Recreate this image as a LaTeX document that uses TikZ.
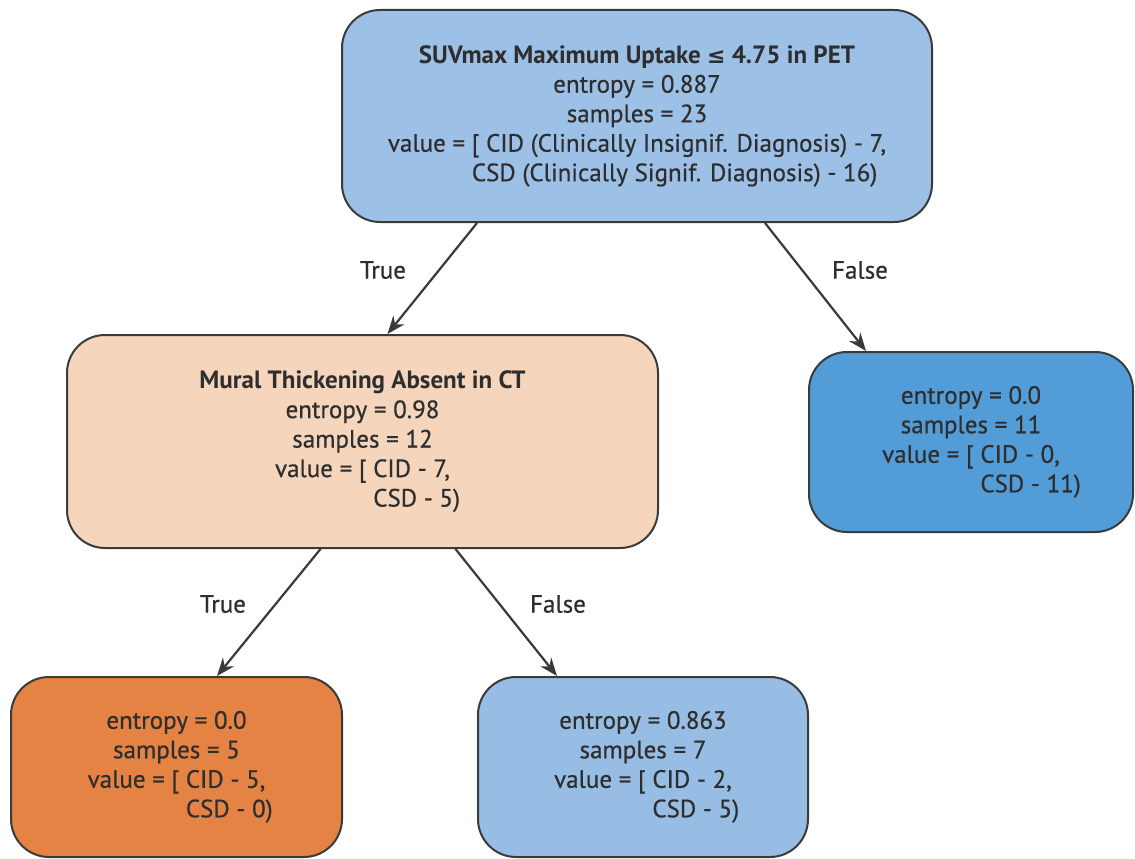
\documentclass[tikz,border=0pt]{standalone}
\usepackage{fontspec}
\setmainfont{PT Sans}[UprightFeatures={FakeBold=0.6}]
\newfontfamily\symfont{DejaVu Sans}
\usetikzlibrary{arrows.meta}
\definecolor{txt}{HTML}{2E2E2E}
\definecolor{edge}{HTML}{3A3A3A}
\definecolor{rootc}{HTML}{9CC0E6}
\definecolor{midc}{HTML}{F5D6BD}
\definecolor{rightc}{HTML}{529DD8}
\definecolor{blc}{HTML}{E58344}
\definecolor{bmc}{HTML}{97BDE4}
\newsavebox\valbox
\newcommand{\twoval}[3]{\global\setbox\valbox\hbox{#1}\usebox\valbox\\\makebox[\wd\valbox][l]{\phantom{#2}#3}}
\tikzset{
  treebox/.style={draw=edge, line width=2pt, rounded corners=38pt, inner sep=0pt,
    align=center, text=txt, font=\fontsize{25}{29.5}\selectfont},
  conn/.style={draw=edge, line width=2.2pt, -{Stealth[length=18pt,width=14pt]}},
  lbl/.style={text=txt, font=\fontsize{25}{28}\selectfont}
}
\begin{document}
\begin{tikzpicture}[x=1pt,y=-1pt]
\useasboundingbox[fill=white] (0,0) rectangle (1135,859);
\node[treebox, fill=rootc, minimum width=590pt, minimum height=212pt] (root) at (637,116)
  {\textbf{SUVmax Maximum Uptake {\symfont\bfseries\fontsize{22}{22}\selectfont ≤} 4.75 in PET}\\entropy = 0.887\\samples = 23\\
   \twoval{value = [ CID (Clinically Insignif. Diagnosis) - 7,}{value = }{CSD (Clinically Signif. Diagnosis) - 16)}};
\node[treebox, fill=midc, minimum width=591pt, minimum height=213pt] (mid) at (362.5,441.5)
  {\textbf{Mural Thickening Absent in CT}\\entropy = 0.98\\samples = 12\\
   \twoval{value = [ CID - 7,}{value = [ }{CSD - 5)}};
\node[treebox, fill=rightc, minimum width=324pt, minimum height=180pt] (right) at (971,442)
  {entropy = 0.0\\samples = 11\\\twoval{value = [ CID - 0,}{value = [ }{CSD - 11)}};
\node[treebox, fill=blc, minimum width=331pt, minimum height=180pt] (bl) at (176.5,767)
  {entropy = 0.0\\samples = 5\\\twoval{value = [ CID - 5,}{value = [ }{CSD - 0)}};
\node[treebox, fill=bmc, minimum width=330pt, minimum height=180pt] (bm) at (643,767)
  {entropy = 0.863\\samples = 7\\\twoval{value = [ CID - 2,}{value = [ }{CSD - 5)}};
\draw[conn] ([xshift=-160pt]root.south) -- ([xshift=25pt]mid.north);
\draw[conn] ([xshift=128pt]root.south) -- ([xshift=-105pt]right.north);
\draw[conn] ([xshift=-42pt]mid.south) -- ([xshift=40.5pt]bl.north);
\draw[conn] ([xshift=93pt]mid.south) -- ([xshift=-86pt]bm.north);
\node[lbl] (t1) at (383,270) {True};
\node[lbl] (f1) at (860,270) {False};
\node[lbl] (t2) at (223,604) {True};
\node[lbl] (f2) at (558,604) {False};
\end{tikzpicture}
\end{document}
